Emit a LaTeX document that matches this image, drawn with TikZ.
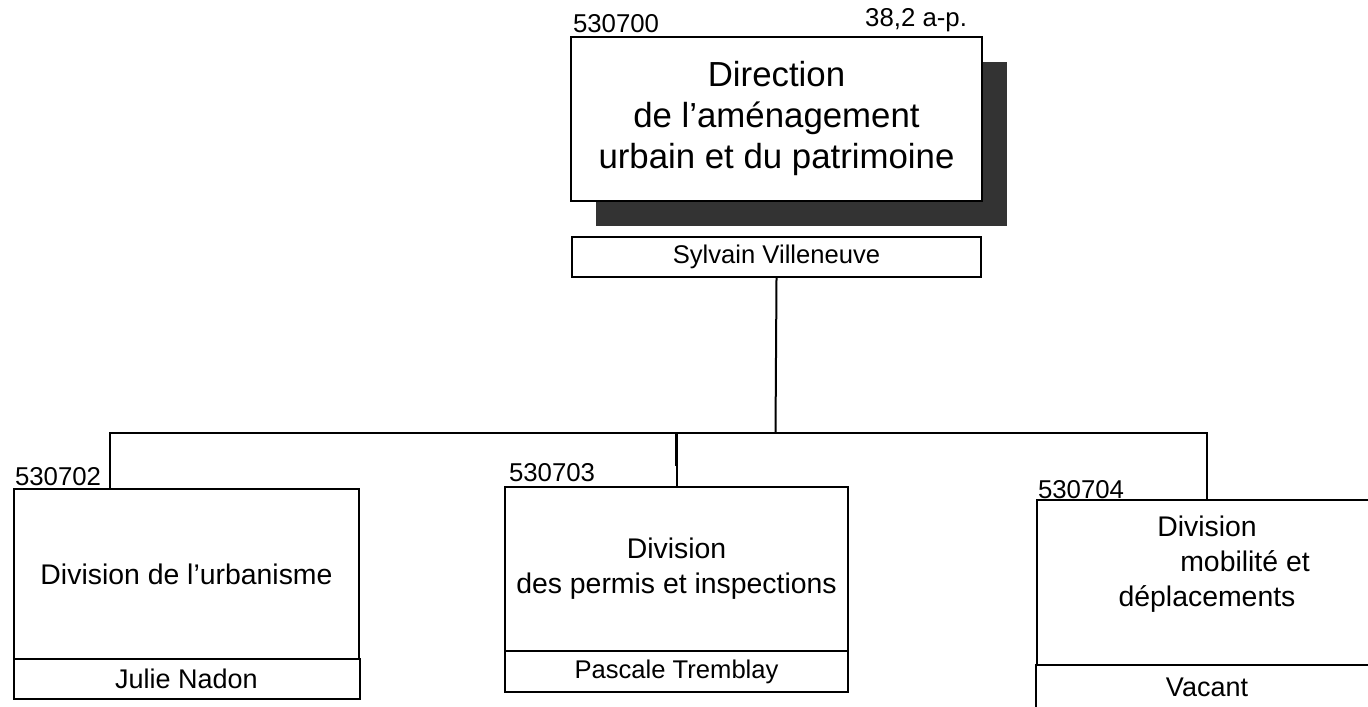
\documentclass[tikz,border=0pt]{standalone}
\usepackage{fontspec}
\setmainfont{Liberation Sans}
\usetikzlibrary{shadows}

\begin{document}
\begin{tikzpicture}[x=0.5pt,y=-0.5pt,line width=1pt,
  unit/.style={draw,fill=white,inner sep=0pt,align=center,font=\fontsize{14.2}{17.5}\selectfont},
  who/.style={draw,fill=white,inner sep=0pt,font=\fontsize{13.5}{16}\selectfont},
  code/.style={inner sep=0pt,font=\fontsize{12.9}{15}\selectfont}]
\useasboundingbox (0,0) rectangle (1368,706);
\clip (0,0) rectangle (1368,706);

% direction
\node[unit,minimum width=205.5pt,minimum height=82pt,font=\fontsize{17.4}{20.5}\selectfont,
  drop shadow={shadow xshift=12.5pt,shadow yshift=-12.5pt,fill=black!80,opacity=1}]
  (dir) at (776.5,119) {Direction\\de l’aménagement\\urbain et du patrimoine};
\node[who,below of=dir,node distance=69pt,minimum width=204.5pt,minimum height=20pt,
  font=\fontsize{12.8}{15}\selectfont] (dirwho) {Sylvain Villeneuve};
\node[code,anchor=base west] (c700) at (572,33) {530700};
\node[code,anchor=base east] (ap) at (968,27) {38,2 a-p.};

% divisions
\node[unit,minimum width=172.5pt,minimum height=85pt] (urb) at (186.5,574) {Division de l’urbanisme};
\node[who,below of=urb,node distance=52.5pt,minimum width=173pt,minimum height=20pt] (urbwho) {Julie Nadon};
\node[code,anchor=base west] (c702) at (14,485) {530702};

\node[unit,minimum width=171.5pt,minimum height=82pt] (perm) at (676.5,569) {Division\\des permis et inspections};
\node[who,below of=perm,node distance=51.25pt,minimum width=171.5pt,minimum height=20.5pt,
  font=\fontsize{12.8}{15}\selectfont] (permwho) {Pascale Tremblay};
\node[code,anchor=base west] (c703) at (508,481) {530703};

\node[unit,minimum width=170pt,minimum height=82.5pt,text depth=21pt] (mob) at (1207,582.5)
  {Division\\\hspace*{38pt}mobilité et\\déplacements};
\node[who,below of=mob,node distance=52.25pt,minimum width=171pt,minimum height=22pt] (mobwho) {Vacant};
\node[code,anchor=base west] (c704) at (1037,498) {530704};

% links
\coordinate (bus) at (775.5,433);
\draw (dirwho.south) -- (bus);
\draw ([xshift=48.5pt]urb.north west) |- (bus) -| (mob.north);
\draw (perm.north) -- (perm.north |- bus);
\draw[line width=1.6pt] (perm.north |- bus) -- ++(0,33);
\end{tikzpicture}
\end{document}
